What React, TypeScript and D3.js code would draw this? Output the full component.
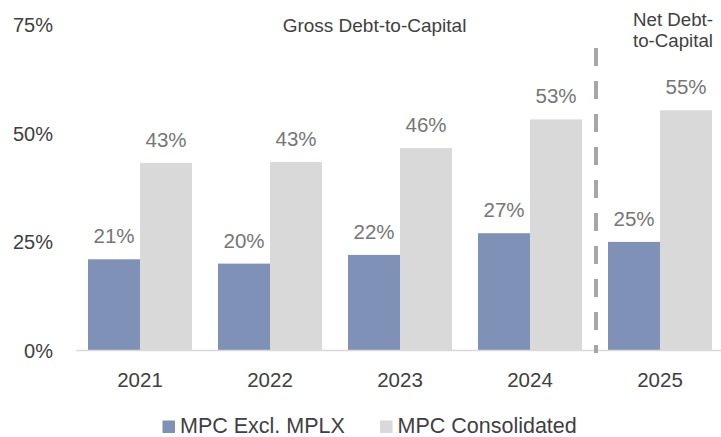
import React, { useEffect, useRef } from 'react';
import * as d3 from 'd3';

const years = ['2021', '2022', '2023', '2024', '2025'];
const exclMplx = [21, 20, 22, 27, 25];
const consolidated = [43.2, 43.4, 46.6, 53.2, 55.3];
const exclLabels = ['21%', '20%', '22%', '27%', '25%'];
const consLabels = ['43%', '43%', '46%', '53%', '55%'];
const yTicks = [0, 25, 50, 75];
const seriesNames = ['MPC Excl. MPLX', 'MPC Consolidated'];

const BLUE = '#7f91b7';
const GRAY = '#d9d9d9';
const FONT = '"Liberation Sans", Arial, sans-serif';

export default function App() {
  const ref = useRef<SVGSVGElement>(null);
  const width = 721;
  const height = 437;

  useEffect(() => {
    const svg = d3.select(ref.current);
    svg.selectAll('*').remove();

    const x = d3.scaleBand()
      .domain(years)
      .range([75, 725])
      .paddingInner(0.2)
      .paddingOuter(0.1);
    const sub = d3.scaleBand()
      .domain(['excl', 'cons'])
      .range([0, x.bandwidth()]);
    const y = d3.scaleLinear()
      .domain([0, 75])
      .range([350.5, 24.7]);

    // y tick labels
    svg.append('g')
      .selectAll('text')
      .data(yTicks)
      .join('text')
        .attr('x', 53)
        .attr('y', d => y(d))
        .attr('dy', '0.36em')
        .attr('text-anchor', 'end')
        .attr('font-size', 20)
        .attr('fill', '#404040')
        .text(d => d + '%');

    const data = years.map((yr, i) => ({
      yr, excl: exclMplx[i], cons: consolidated[i], el: exclLabels[i], cl: consLabels[i]
    }));

    const g = svg.append('g');
    g.selectAll('rect.excl')
      .data(data)
      .join('rect')
        .attr('class', 'excl')
        .attr('x', d => x(d.yr)! + sub('excl')!)
        .attr('y', d => y(d.excl))
        .attr('width', sub.bandwidth())
        .attr('height', d => y(0) - y(d.excl))
        .attr('fill', BLUE);
    g.selectAll('rect.cons')
      .data(data)
      .join('rect')
        .attr('class', 'cons')
        .attr('x', d => x(d.yr)! + sub('cons')!)
        .attr('y', d => y(d.cons))
        .attr('width', sub.bandwidth())
        .attr('height', d => y(0) - y(d.cons))
        .attr('fill', GRAY);

    // data labels
    g.selectAll('text.el')
      .data(data)
      .join('text')
        .attr('class', 'el')
        .attr('x', d => x(d.yr)! + sub('excl')! + sub.bandwidth() / 2)
        .attr('y', d => y(d.excl) - 16)
        .attr('text-anchor', 'middle')
        .attr('font-size', 20.5)
        .attr('fill', '#767676')
        .text(d => d.el);
    g.selectAll('text.cl')
      .data(data)
      .join('text')
        .attr('class', 'cl')
        .attr('x', d => x(d.yr)! + sub('cons')! + sub.bandwidth() / 2)
        .attr('y', d => y(d.cons) - 16)
        .attr('text-anchor', 'middle')
        .attr('font-size', 20.5)
        .attr('fill', '#767676')
        .text(d => d.cl);

    // baseline
    svg.append('line')
      .attr('x1', 76).attr('x2', 721)
      .attr('y1', y(0)).attr('y2', y(0))
      .attr('stroke', '#d9d9d9')
      .attr('stroke-width', 1.5);

    // year labels
    svg.append('g')
      .selectAll('text')
      .data(years)
      .join('text')
        .attr('x', d => x(d)! + x.bandwidth() / 2)
        .attr('y', 386.5)
        .attr('text-anchor', 'middle')
        .attr('font-size', 20.5)
        .attr('fill', '#404040')
        .text(d => d);

    // divider between gross and net
    const divX = x('2025')! - x.step() * x.paddingInner() / 2 + 1;
    svg.append('line')
      .attr('x1', divX).attr('x2', divX)
      .attr('y1', 48).attr('y2', 353)
      .attr('stroke', '#a6a6a6')
      .attr('stroke-width', 4)
      .attr('stroke-dasharray', '18,15');

    // section titles
    svg.append('text')
      .attr('x', 374.5).attr('y', 31.5)
      .attr('text-anchor', 'middle')
      .attr('font-size', 19)
      .attr('fill', '#404040')
      .text('Gross Debt-to-Capital');
    const net = svg.append('text')
      .attr('font-size', 18.7)
      .attr('fill', '#404040');
    net.append('tspan').attr('x', 633).attr('y', 26).text('Net Debt-');
    net.append('tspan').attr('x', 633).attr('y', 47).text('to-Capital');

    // legend
    const legendX = [162.5, 380];
    const leg = svg.append('g')
      .selectAll('g')
      .data(seriesNames)
      .join('g')
        .attr('transform', (d, i) => `translate(${legendX[i]},0)`);
    leg.append('rect')
      .attr('x', 0).attr('y', 420.5)
      .attr('width', 12.5).attr('height', 12.5)
      .attr('fill', (d, i) => i === 0 ? BLUE : GRAY);
    leg.append('text')
      .attr('x', 17.5).attr('y', 432.5)
      .attr('font-size', 21.5)
      .attr('fill', '#404040')
      .text(d => d);
  }, []);

  return (
    <svg ref={ref} width={width} height={height}
      style={{ position: 'absolute', left: 0, top: 0, fontFamily: FONT, background: '#fff' }} />
  );
}
